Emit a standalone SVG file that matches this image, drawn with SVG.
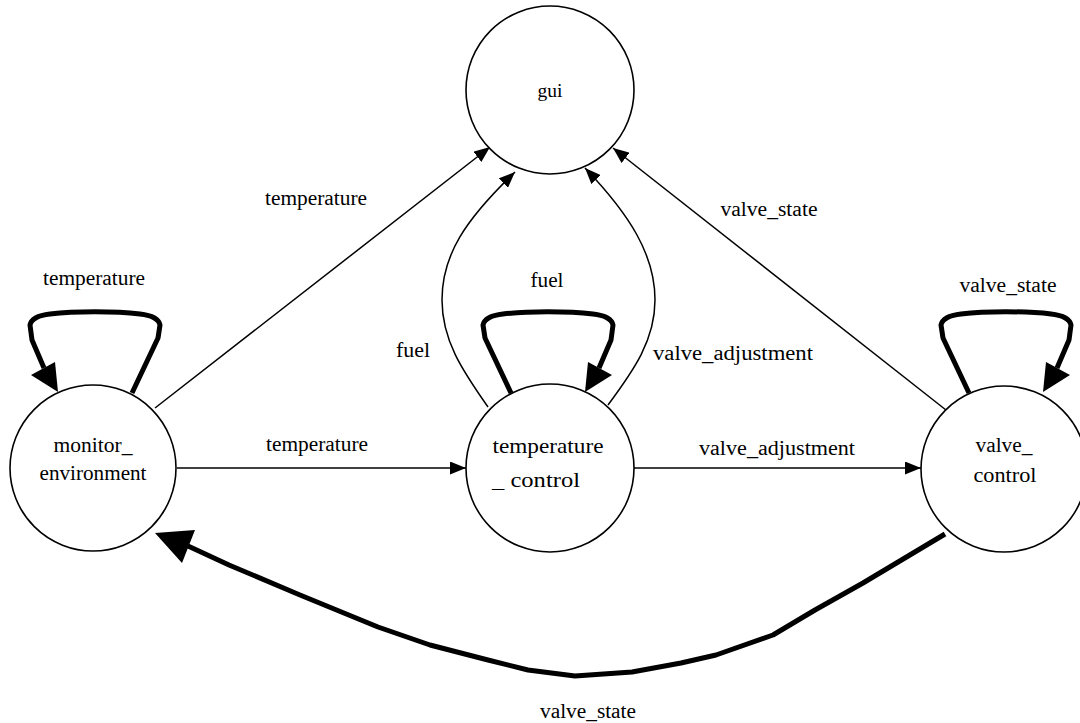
<svg xmlns="http://www.w3.org/2000/svg" width="1080" height="723" viewBox="0 0 1080 723">
<style>
.node{fill:#fff;stroke:#000;stroke-width:1.6}
text{font-family:'Liberation Serif','Times New Roman',serif;fill:#000;text-anchor:middle}
.lbl{font-size:20px}
.thin{fill:none;stroke:#000;stroke-width:1.5}
.thick{fill:none;stroke:#000;stroke-width:5;stroke-linejoin:round}
</style>
<defs>
<marker id="ah" viewBox="0 0 16 13" refX="16" refY="6.5" markerWidth="16" markerHeight="13" orient="auto" markerUnits="userSpaceOnUse">
<path d="M0,0 L16,6.5 L0,13 z" fill="#000"/>
</marker>
</defs>
<rect width="1080" height="723" fill="#fff"/>
<g id="connectors">
<path class="thin" d="M155,408 L490,147" marker-end="url(#ah)"/>
<path class="thin" d="M488,407 C462,370 442,340 442,300 C442,255 465,220 515,172" marker-end="url(#ah)"/>
<path class="thin" d="M608,405 C634,370 655,340 655,300 C655,255 630,215 585,168" marker-end="url(#ah)"/>
<path class="thin" d="M946,410 L613,148" marker-end="url(#ah)"/>
<path class="thin" d="M177,468 L466,468" marker-end="url(#ah)"/>
<path class="thin" d="M634,468 L921,468" marker-end="url(#ah)"/>
<path class="thick" d="M132,393 L158,338 L160,325 Q158,316 140,314 C115,311 75,311 50,314 Q32,316 30,325 L32,340 L44,368"/>
<polygon points="31,375 55,362 58,392" fill="#000"/>
<path class="thick" d="M511,393 L485,338 L483,325 Q485,316 503,314 C528,311 568,311 593,314 Q611,316 613,325 L611,340 L599,368"/>
<polygon points="612,375 588,362 585,392" fill="#000"/>
<path class="thick" d="M969,393 L943,338 L941,325 Q943,316 961,314 C986,311 1026,311 1051,314 Q1069,316 1071,325 L1069,340 L1057,368"/>
<polygon points="1070,375 1046,362 1043,392" fill="#000"/>
<path class="thick" d="M945,534 L863,583 L815,610 L773,635 L716,655 L681,663 L632,672 L575,676 L528,670 L488,660 L430,645 L378,627 L300,595 L229,565 L188,546"/>
<polygon points="155,533 195,530 182,563" fill="#000"/>
<text class="lbl" x="316" y="205" textLength="102" lengthAdjust="spacingAndGlyphs">temperature</text>
<text class="lbl" x="94" y="285" textLength="102" lengthAdjust="spacingAndGlyphs">temperature</text>
<text class="lbl" x="317" y="451" textLength="102" lengthAdjust="spacingAndGlyphs">temperature</text>
<text class="lbl" x="547" y="287" textLength="33" lengthAdjust="spacingAndGlyphs">fuel</text>
<text class="lbl" x="413" y="357" textLength="34" lengthAdjust="spacingAndGlyphs">fuel</text>
<text class="lbl" x="733" y="360" textLength="160" lengthAdjust="spacingAndGlyphs">valve_adjustment</text>
<text class="lbl" x="777" y="455" textLength="156" lengthAdjust="spacingAndGlyphs">valve_adjustment</text>
<text class="lbl" x="769" y="216" textLength="97" lengthAdjust="spacingAndGlyphs">valve_state</text>
<text class="lbl" x="1008" y="292" textLength="97" lengthAdjust="spacingAndGlyphs">valve_state</text>
<text class="lbl" x="588" y="718" textLength="96" lengthAdjust="spacingAndGlyphs">valve_state</text>
</g>
<g id="gui">
<circle class="node" cx="550" cy="90" r="84"/>
<text x="550" y="97" font-size="18" textLength="25" lengthAdjust="spacingAndGlyphs">gui</text>
</g>
<g id="monitor_environment">
<circle class="node" cx="93" cy="468" r="83"/>
<text x="93" y="452" font-size="20" textLength="79" lengthAdjust="spacingAndGlyphs">monitor_</text>
<text x="93" y="480" font-size="20" textLength="107" lengthAdjust="spacingAndGlyphs">environment</text>
</g>
<g id="temperature_control">
<circle class="node" cx="550" cy="468" r="84"/>
<text x="548" y="453" font-size="22" textLength="111" lengthAdjust="spacingAndGlyphs">temperature</text>
<text x="492" y="487" font-size="22" style="text-anchor:start" textLength="88" lengthAdjust="spacingAndGlyphs">_ control</text>
</g>
<g id="valve_control">
<circle class="node" cx="1004" cy="469" r="83"/>
<text x="1004" y="452" font-size="20" textLength="57" lengthAdjust="spacingAndGlyphs">valve_</text>
<text x="1005" y="482" font-size="20" textLength="63" lengthAdjust="spacingAndGlyphs">control</text>
</g>
</svg>
